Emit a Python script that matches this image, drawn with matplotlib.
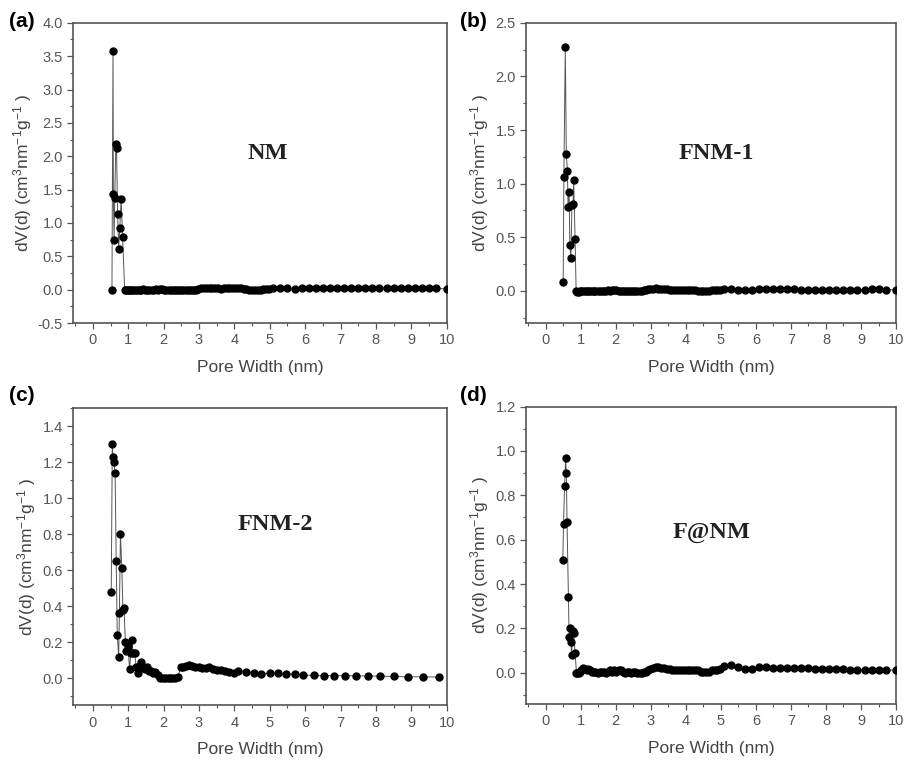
import matplotlib.pyplot as plt
from matplotlib.ticker import MultipleLocator, AutoMinorLocator

plt.rcParams['font.family'] = ['Liberation Sans', 'DejaVu Sans']
plt.rcParams['mathtext.default'] = 'regular'
plt.rcParams['axes.unicode_minus'] = False

# pore widths (nm) shared by NM, FNM-1 and F@NM after the micropore spike
tail_x = [0.90, 0.94, 0.98, 1.02, 1.07, 1.12, 1.17, 1.22, 1.27, 1.32, 1.37, 1.42,
          1.48, 1.54, 1.60, 1.66, 1.72, 1.78, 1.84, 1.90, 1.96, 2.02,
          2.08, 2.14, 2.20, 2.26, 2.32, 2.38, 2.44, 2.50, 2.56, 2.62,
          2.68, 2.74, 2.80, 2.86, 2.92, 2.98,
          3.06, 3.14, 3.22, 3.30, 3.38, 3.46, 3.54, 3.62, 3.70, 3.78,
          3.86, 3.94, 4.02, 4.10, 4.18, 4.26, 4.34, 4.42, 4.50, 4.58,
          4.66, 4.74, 4.82, 4.90, 4.98,
          5.10, 5.30, 5.50, 5.70, 5.90, 6.10, 6.30, 6.50, 6.70, 6.90,
          7.10, 7.30, 7.50, 7.70, 7.90, 8.10, 8.30, 8.50, 8.70, 8.90,
          9.10, 9.30, 9.50, 9.70, 10.0]

# (a) NM
nm_spike_x = [0.54, 0.57, 0.58, 0.60, 0.62, 0.65, 0.67, 0.70, 0.73, 0.76, 0.80, 0.84]
nm_spike_y = [0.00, 3.58, 1.43, 0.75, 1.38, 2.18, 2.13, 1.13, 0.61, 0.92, 1.36, 0.79]
nm_tail_y = [-0.01, -0.01, -0.01, 0.0, -0.01, 0.0, 0.0, -0.01, 0.0, 0.0, 0.0, 0.01,
             0.0, -0.01, 0.0, 0.0, 0.0, 0.01, 0.0, 0.01, 0.01, 0.0,
             -0.01, -0.01, 0.0, 0.0, 0.0, -0.01, -0.01, 0.0, 0.0, 0.0,
             -0.01, -0.01, 0.0, 0.0, 0.0, 0.01,
             0.02, 0.03, 0.03, 0.03, 0.02, 0.02, 0.02, 0.01, 0.02, 0.02,
             0.02, 0.03, 0.03, 0.02, 0.02, 0.01, 0.01, 0.0, 0.0, 0.0,
             0.0, 0.0, 0.01, 0.01, 0.01,
             0.02, 0.02, 0.02, 0.01, 0.02, 0.02, 0.03, 0.03, 0.02, 0.02,
             0.02, 0.02, 0.02, 0.02, 0.02, 0.02, 0.02, 0.02, 0.02, 0.02,
             0.02, 0.02, 0.02, 0.02, 0.01]

# (b) FNM-1
fnm1_spike_x = [0.50, 0.52, 0.56, 0.59, 0.62, 0.64, 0.67, 0.69, 0.72, 0.75, 0.78, 0.80, 0.84, 0.87]
fnm1_spike_y = [0.08, 1.06, 2.27, 1.28, 1.12, 0.78, 0.92, 0.43, 0.31, 0.80, 0.81, 1.03, 0.48, 0.00]
fnm1_tail_y = [-0.01, -0.01, 0.0, -0.005, 0.0, -0.005, 0.0, 0.0, -0.005, 0.0, 0.0, 0.0,
               -0.005, -0.005, 0.0, 0.0, 0.0, 0.005, 0.0, 0.005, 0.005, 0.01,
               0.0, 0.0, -0.005, 0.0, 0.0, -0.005, -0.005, 0.0, 0.0, 0.0,
               0.0, 0.0, 0.005, 0.01, 0.015, 0.02,
               0.02, 0.025, 0.02, 0.02, 0.015, 0.015, 0.01, 0.01, 0.01, 0.01,
               0.01, 0.01, 0.01, 0.005, 0.005, 0.005, 0.0, 0.0, 0.0, 0.0,
               0.0, 0.005, 0.005, 0.005, 0.01,
               0.015, 0.015, 0.01, 0.01, 0.01, 0.015, 0.02, 0.02, 0.015, 0.015,
               0.015, 0.01, 0.01, 0.01, 0.01, 0.005, 0.01, 0.005, 0.005, 0.01,
               0.01, 0.015, 0.02, 0.01, 0.01]

# (c) FNM-2 (own pore width grid)
fnm2_x = [0.52, 0.55, 0.57, 0.59, 0.63, 0.66, 0.69, 0.73, 0.75, 0.78, 0.82, 0.85,
          0.88, 0.92, 0.95, 0.99,
          1.04, 1.07, 1.10, 1.14, 1.18, 1.23, 1.27, 1.32, 1.37, 1.42, 1.47, 1.53,
          1.59, 1.65, 1.71, 1.77, 1.83, 1.90, 1.97, 2.04, 2.11, 2.18, 2.25, 2.32, 2.40,
          2.48, 2.56, 2.64, 2.72, 2.81, 2.90, 2.99, 3.09, 3.19, 3.29, 3.40, 3.51,
          3.62, 3.74, 3.86, 3.98, 4.11,
          4.34, 4.55, 4.76, 5.00, 5.24, 5.47, 5.71, 5.94, 6.24, 6.53, 6.83, 7.13,
          7.43, 7.77, 8.12, 8.50, 8.90, 9.33, 9.78]
fnm2_y = [0.48, 1.30, 1.23, 1.20, 1.14, 0.65, 0.24, 0.12, 0.36, 0.80, 0.61, 0.38,
          0.39, 0.20, 0.15, 0.18,
          0.05, 0.14, 0.21, 0.14, 0.14, 0.06, 0.03, 0.07, 0.09, 0.06, 0.05, 0.065,
          0.04, 0.04, 0.03, 0.035, 0.02, 0.0, 0.0, 0.0, 0.0, 0.0, 0.0, 0.0, 0.005,
          0.06, 0.065, 0.07, 0.075, 0.07, 0.065, 0.06, 0.055, 0.055, 0.06, 0.05, 0.045,
          0.045, 0.04, 0.035, 0.03, 0.04,
          0.035, 0.03, 0.025, 0.028, 0.027, 0.025, 0.022, 0.018, 0.016, 0.014, 0.015, 0.014,
          0.014, 0.012, 0.012, 0.01, 0.008, 0.008, 0.007]

# (d) F@NM
fnm_spike_x = [0.49, 0.51, 0.54, 0.57, 0.59, 0.61, 0.65, 0.67, 0.69, 0.72, 0.74, 0.77, 0.80, 0.84, 0.88]
fnm_spike_y = [0.51, 0.67, 0.84, 0.97, 0.90, 0.68, 0.34, 0.16, 0.20, 0.14, 0.08, 0.19, 0.18, 0.09, 0.00]
fnm_tail_y = [0.0, 0.0, 0.005, 0.01, 0.02, 0.015, 0.01, 0.015, 0.01, 0.005, 0.005, 0.005,
              0.0, 0.005, 0.005, 0.005, 0.0, 0.005, 0.01, 0.005, 0.01, 0.005,
              0.01, 0.01, 0.005, 0.0, 0.005, 0.005, 0.0, 0.005, 0.005, 0.0,
              0.0, 0.0, 0.005, 0.005, 0.01, 0.015,
              0.02, 0.025, 0.025, 0.02, 0.02, 0.015, 0.015, 0.01, 0.01, 0.01,
              0.01, 0.01, 0.01, 0.01, 0.01, 0.01, 0.01, 0.005, 0.005, 0.005,
              0.005, 0.01, 0.01, 0.01, 0.015,
              0.03, 0.035, 0.025, 0.015, 0.015, 0.025, 0.025, 0.02, 0.02, 0.02,
              0.02, 0.02, 0.02, 0.018, 0.015, 0.015, 0.015, 0.015, 0.012, 0.012,
              0.012, 0.012, 0.012, 0.012, 0.012]

panels = [
    ('(a)', 'NM', nm_spike_x + tail_x, nm_spike_y + nm_tail_y, (-0.5, 4.0), 0.5,
     [0.081, 0.575, 0.412, 0.395], (0.52, 0.563), (0.010, 0.972)),
    ('(b)', 'FNM-1', fnm1_spike_x + tail_x, fnm1_spike_y + fnm1_tail_y, (-0.3, 2.5), 0.5,
     [0.581, 0.575, 0.408, 0.395], (0.513, 0.563), (0.508, 0.972)),
    ('(c)', 'FNM-2', fnm2_x, fnm2_y, (-0.15, 1.5), 0.2,
     [0.081, 0.072, 0.412, 0.391], (0.54, 0.61), (0.010, 0.480)),
    ('(d)', 'F@NM', fnm_spike_x + tail_x, fnm_spike_y + fnm_tail_y, (-0.14, 1.2), 0.2,
     [0.581, 0.074, 0.408, 0.391], (0.50, 0.576), (0.508, 0.480)),
]

fig = plt.figure(figsize=(9.06, 7.6), dpi=100)

for tag, name, x, y, ylim, ystep, rect, txt_pos, tag_pos in panels:
    ax = fig.add_axes(rect)
    ax.plot(x, y, '-', color='#555555', lw=0.7, zorder=2)
    ax.plot(x, y, 'o', color='black', ms=5, zorder=3)
    ax.set_xlim(-0.55, 10)
    ax.set_ylim(*ylim)
    ax.xaxis.set_major_locator(MultipleLocator(1))
    ax.yaxis.set_major_locator(MultipleLocator(ystep))
    ax.xaxis.set_minor_locator(AutoMinorLocator(2))
    ax.yaxis.set_minor_locator(AutoMinorLocator(2))
    ax.tick_params(which='major', direction='out', length=4, width=0.9,
                   colors='#555555', labelsize=10.5, labelcolor='#555555')
    ax.tick_params(which='minor', direction='out', length=2.5, width=0.8, colors='#555555')
    for s in ax.spines.values():
        s.set_color('#555555')
        s.set_linewidth(1.2)
    ax.set_xlabel('Pore Width (nm)', fontsize=12.5, color='#444444', labelpad=9)
    ax.set_ylabel('dV(d) (cm$^{3}$nm$^{-1}$g$^{-1}$ )', fontsize=12.5, color='#444444',
                  labelpad=3)
    ax.text(txt_pos[0], txt_pos[1], name, transform=ax.transAxes, ha='center', va='center',
            fontsize=17.5, fontweight='bold', family='Liberation Serif', color='#222222')
    fig.text(tag_pos[0], tag_pos[1], tag, fontsize=15, fontweight='bold', va='center')

fig.savefig('out.png', dpi=100)
